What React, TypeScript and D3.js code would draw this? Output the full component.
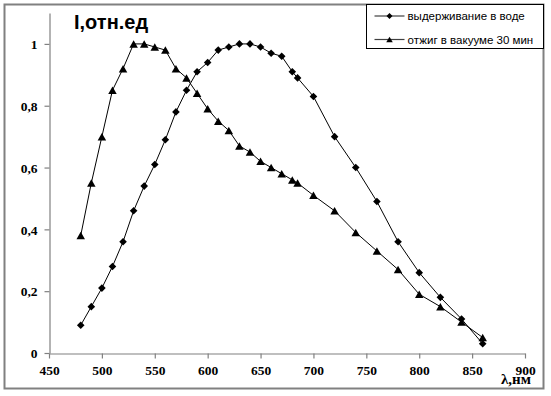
import { useRef, useEffect } from 'react'
import * as d3 from 'd3'

// wavelength, nm
const wavelengths = [480, 490, 500, 510, 520, 530, 540, 550, 560, 570, 580, 590, 600, 610, 620, 630, 640, 650, 660, 670, 680, 685, 700, 720, 740, 760, 780, 800, 820, 840, 860]
// "выдерживание в воде"
const waterValues = [0.09, 0.15, 0.21, 0.28, 0.36, 0.46, 0.54, 0.61, 0.69, 0.78, 0.85, 0.91, 0.94, 0.98, 0.99, 1.0, 1.0, 0.99, 0.97, 0.96, 0.91, 0.89, 0.83, 0.70, 0.60, 0.49, 0.36, 0.26, 0.18, 0.11, 0.03]
// "отжиг в вакууме 30 мин"
const vacuumValues = [0.38, 0.55, 0.70, 0.85, 0.92, 1.0, 1.0, 0.99, 0.98, 0.92, 0.89, 0.84, 0.79, 0.75, 0.72, 0.67, 0.65, 0.62, 0.60, 0.58, 0.56, 0.55, 0.51, 0.46, 0.39, 0.33, 0.27, 0.19, 0.15, 0.10, 0.05]

const xTicks = [450, 500, 550, 600, 650, 700, 750, 800, 850, 900]
const yTicks = [0, 0.2, 0.4, 0.6, 0.8, 1]

const seriesNames = ['выдерживание в воде', 'отжиг в вакууме 30 мин']

const W = 551
const H = 396

const diamond = (r: number) => `M0,${-r}L${r},0L0,${r}L${-r},0Z`
const triangle = (w: number, h: number) => `M0,${-h / 2}L${w / 2},${h / 2}L${-w / 2},${h / 2}Z`

export default function App() {
  const svgRef = useRef<SVGSVGElement>(null)

  useEffect(() => {
    if (!svgRef.current) return
    const svg = d3.select(svgRef.current)
    svg.selectAll('*').remove()

    const x = d3.scaleLinear().domain([450, 900]).range([49, 525])
    const y = d3.scaleLinear().domain([0, 1.1]).range([353, 13])

    // chart border
    svg.append('rect')
      .attr('x', 4.5).attr('y', 4.5)
      .attr('width', 539).attr('height', 384)
      .attr('fill', '#fff')
      .attr('stroke', '#808080')
      .attr('stroke-width', 2)

    const axisColor = '#808080'
    const serif = '"Liberation Serif", "Times New Roman", serif'
    const sans = '"Liberation Sans", Arial, sans-serif'

    // Y axis
    const yAxis = svg.append('g').attr('transform', 'translate(49.5,0)')
      .call(d3.axisLeft(y).tickValues(yTicks).tickSize(5).tickSizeOuter(0)
        .tickFormat(d => (d as number) === 0 ? '0' : String(+(d as number).toFixed(1)).replace('.', ',')))
    yAxis.attr('font-family', null).attr('font-size', null)
    yAxis.select('.domain').attr('stroke', axisColor).attr('stroke-width', 1.2)
    yAxis.selectAll('.tick line').attr('stroke', axisColor).attr('stroke-width', 1.2)
    yAxis.selectAll('.tick text')
      .attr('x', -12)
      .attr('dy', '0.35em')
      .attr('fill', '#000')
      .style('font-family', serif)
      .style('font-weight', 'bold')
      .style('font-size', '13.5px')

    // X axis
    const xAxis = svg.append('g').attr('transform', 'translate(0,353.5)')
      .call(d3.axisBottom(x).tickValues(xTicks).tickSize(5).tickSizeOuter(0).tickFormat(d => String(d)))
    xAxis.attr('font-family', null).attr('font-size', null)
    xAxis.select('.domain').attr('stroke', axisColor).attr('stroke-width', 1.2)
    xAxis.selectAll('.tick line').attr('stroke', axisColor).attr('stroke-width', 1.2)
    xAxis.selectAll('.tick text')
      .attr('y', 12)
      .attr('dy', '0.71em')
      .attr('fill', '#000')
      .style('font-family', serif)
      .style('font-weight', 'bold')
      .style('font-size', '13.5px')

    // axis titles
    svg.append('text')
      .attr('x', 74).attr('y', 29)
      .style('font-family', sans)
      .style('font-weight', 'bold')
      .style('font-size', '20px')
      .attr('fill', '#000')
      .text('I,отн.ед')

    svg.append('text')
      .attr('x', 501).attr('y', 384)
      .style('font-family', serif)
      .style('font-weight', 'bold')
      .style('font-size', '15px')
      .attr('fill', '#000')
      .text('λ,нм')

    // series
    const line = d3.line<number>()
      .x((_, i) => x(wavelengths[i]))
      .y(d => y(d))

    const series = [
      { values: waterValues, marker: diamond(3.8) },
      { values: vacuumValues, marker: triangle(8.5, 7.5) },
    ]

    series.forEach(s => {
      svg.append('path')
        .datum(s.values)
        .attr('d', line)
        .attr('fill', 'none')
        .attr('stroke', '#000')
        .attr('stroke-width', 1)

      svg.append('g')
        .selectAll('path')
        .data(s.values)
        .join('path')
        .attr('transform', (d, i) => `translate(${x(wavelengths[i])},${y(d)})`)
        .attr('d', s.marker)
        .attr('fill', '#000')
    })

    // legend
    const legend = svg.append('g').attr('transform', 'translate(366.5,4.5)')
    legend.append('rect')
      .attr('width', 177).attr('height', 44)
      .attr('fill', '#fff')
      .attr('stroke', '#000')
      .attr('stroke-width', 1)

    const legendMarkers = [diamond(3), triangle(6.5, 5.5)]
    seriesNames.forEach((name, i) => {
      const row = legend.append('g').attr('transform', `translate(0,${11.5 + i * 23.5})`)
      row.append('line')
        .attr('x1', 8).attr('x2', 38)
        .attr('stroke', '#404040')
        .attr('stroke-width', 1.2)
      row.append('path')
        .attr('transform', 'translate(23,0)')
        .attr('d', legendMarkers[i])
        .attr('fill', '#000')
      row.append('text')
        .attr('x', 41)
        .attr('dy', '0.35em')
        .style('font-family', sans)
        .style('font-size', '11.5px')
        .attr('fill', '#000')
        .text(name)
    })
  }, [])

  return (
    <svg
      ref={svgRef}
      width={W}
      height={H}
      style={{ position: 'absolute', left: 0, top: 0, background: '#fff' }}
    />
  )
}
